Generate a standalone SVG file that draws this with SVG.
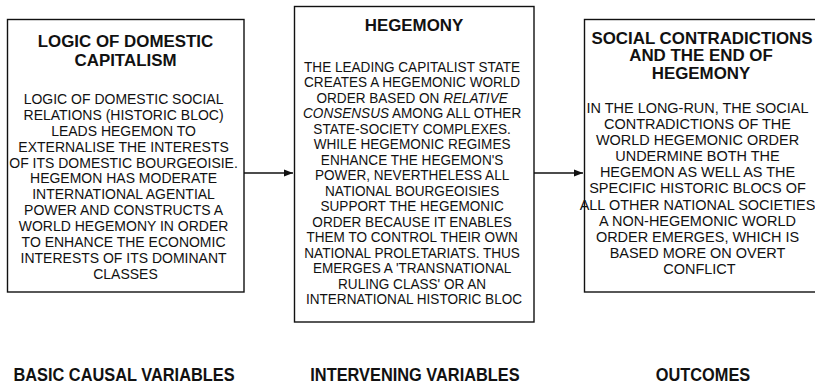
<svg xmlns="http://www.w3.org/2000/svg" width="815" height="391" viewBox="0 0 815 391">
<style>
.box{fill:#fff;stroke:#111;stroke-width:1.4}
.t{font-family:"Liberation Sans",Arial,sans-serif;font-weight:bold;font-size:16.9px;fill:#111;text-anchor:middle}
.b{font-family:"Liberation Sans",Arial,sans-serif;font-size:15px;fill:#111;text-anchor:middle}
.i{font-style:italic}
.lab{font-family:"Liberation Sans",Arial,sans-serif;font-weight:bold;font-size:18.5px;fill:#111;text-anchor:middle}
.conn{stroke:#111;stroke-width:1.3;fill:none}
</style>
<defs>
<marker id="ah" markerWidth="10" markerHeight="8" refX="9" refY="4" orient="auto" markerUnits="userSpaceOnUse">
<path d="M0,0.5 L9,4 L0,7.5 Z" fill="#111"/>
</marker>
</defs>
<g id="connectors">
<line class="conn" x1="244" y1="173" x2="293" y2="173" marker-end="url(#ah)"/>
<line class="conn" x1="534" y1="173" x2="583" y2="173" marker-end="url(#ah)"/>
</g>
<g id="node-domestic">
<rect class="box" x="7.5" y="19.5" width="236.5" height="272.5"/>
<text class="t" x="125.5" y="47">LOGIC OF DOMESTIC</text>
<text class="t" x="125.5" y="65.5">CAPITALISM</text>
<g transform="translate(125.5,0) scale(0.933,1)">
<text class="b" x="0" y="104">
<tspan x="0" dy="0">LOGIC OF DOMESTIC SOCIAL</tspan>
<tspan x="0" dy="15.9">RELATIONS (HISTORIC BLOC)</tspan>
<tspan x="0" dy="15.9">LEADS HEGEMON TO</tspan>
<tspan x="0" dy="15.9">EXTERNALISE THE INTERESTS</tspan>
<tspan x="0" dy="15.9">OF ITS DOMESTIC BOURGEOISIE.</tspan>
<tspan x="0" dy="15.9">HEGEMON HAS MODERATE</tspan>
<tspan x="0" dy="15.9">INTERNATIONAL AGENTIAL</tspan>
<tspan x="0" dy="15.9">POWER AND CONSTRUCTS A</tspan>
<tspan x="0" dy="15.9">WORLD HEGEMONY IN ORDER</tspan>
<tspan x="0" dy="15.9">TO ENHANCE THE ECONOMIC</tspan>
<tspan x="0" dy="15.9">INTERESTS OF ITS DOMINANT</tspan>
<tspan x="0" dy="15.9">CLASSES</tspan>
</text>
</g>
</g>
<g id="node-hegemony">
<rect class="box" x="294.5" y="6.5" width="239.5" height="315.5"/>
<text class="t" x="414" y="31">HEGEMONY</text>
<g transform="translate(414,0) scale(0.905,1)">
<text class="b" x="0" y="72">
<tspan x="0" dy="0">THE LEADING CAPITALIST STATE</tspan>
<tspan x="0" dy="15.5">CREATES A HEGEMONIC WORLD</tspan>
<tspan x="0" dy="15.5">ORDER BASED ON <tspan class="i">RELATIVE</tspan></tspan>
<tspan x="0" dy="15.5"><tspan class="i">CONSENSUS</tspan> AMONG ALL OTHER</tspan>
<tspan x="0" dy="15.5">STATE-SOCIETY COMPLEXES.</tspan>
<tspan x="0" dy="15.5">WHILE HEGEMONIC REGIMES</tspan>
<tspan x="0" dy="15.5">ENHANCE THE HEGEMON'S</tspan>
<tspan x="0" dy="15.5">POWER, NEVERTHELESS ALL</tspan>
<tspan x="0" dy="15.5">NATIONAL BOURGEOISIES</tspan>
<tspan x="0" dy="15.5">SUPPORT THE HEGEMONIC</tspan>
<tspan x="0" dy="15.5">ORDER BECAUSE IT ENABLES</tspan>
<tspan x="0" dy="15.5">THEM TO CONTROL THEIR OWN</tspan>
<tspan x="0" dy="15.5">NATIONAL PROLETARIATS. THUS</tspan>
<tspan x="0" dy="15.5">EMERGES A 'TRANSNATIONAL</tspan>
<tspan x="0" dy="15.5">RULING CLASS' OR AN</tspan>
<tspan x="0" dy="15.5">INTERNATIONAL HISTORIC BLOC</tspan>
</text>
</g>
</g>
<g id="node-contradictions">
<rect class="box" x="584.5" y="19.5" width="240" height="272.5"/>
<text class="t" x="702" y="43.5">SOCIAL CONTRADICTIONS</text>
<text class="t" x="701" y="61">AND THE END OF</text>
<text class="t" x="701" y="78.5">HEGEMONY</text>
<g transform="translate(699.5,0) scale(0.965,1)">
<text class="b" x="0" y="113">
<tspan x="0" dy="0">IN THE LONG-RUN, THE SOCIAL</tspan>
<tspan x="0" dy="16.1">CONTRADICTIONS OF THE</tspan>
<tspan x="0" dy="16.1">WORLD HEGEMONIC ORDER</tspan>
<tspan x="0" dy="16.1">UNDERMINE BOTH THE</tspan>
<tspan x="0" dy="16.1">HEGEMON AS WELL AS THE</tspan>
<tspan x="0" dy="16.1">SPECIFIC HISTORIC BLOCS OF</tspan>
<tspan x="0" dy="16.1">ALL OTHER NATIONAL SOCIETIES</tspan>
<tspan x="0" dy="16.1">A NON-HEGEMONIC WORLD</tspan>
<tspan x="0" dy="16.1">ORDER EMERGES, WHICH IS</tspan>
<tspan x="0" dy="16.1">BASED MORE ON OVERT</tspan>
<tspan x="0" dy="16.1">CONFLICT</tspan>
</text>
</g>
</g>
<g id="labels">
<g transform="translate(124,0) scale(0.885,1)"><text class="lab" x="0" y="381">BASIC CAUSAL VARIABLES</text></g>
<g transform="translate(415,0) scale(0.885,1)"><text class="lab" x="0" y="381">INTERVENING VARIABLES</text></g>
<g transform="translate(703,0) scale(0.885,1)"><text class="lab" x="0" y="381">OUTCOMES</text></g>
</g>
</svg>
